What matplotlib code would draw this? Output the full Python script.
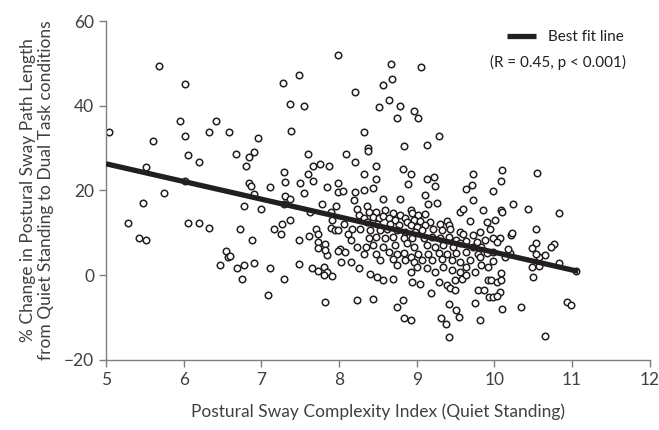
import numpy as np
import matplotlib
matplotlib.use("Agg")
import matplotlib.pyplot as plt

plt.rcParams['font.family'] = ['Lato', 'DejaVu Sans']

# complexity index (x) and % change in path length (y)
pts = [
    # upper left
    (5.68, 49.5), (6.02, 45.2), (5.95, 36.3), (6.42, 36.3), (6.33, 33.9), (6.58, 33.8),
    (5.04, 33.8), (5.61, 31.6), (6.01, 32.9),
    # upper middle
    (7.99, 52.0), (7.49, 47.2), (7.28, 45.4), (8.20, 43.2), (7.37, 40.5), (7.55, 40.0),
    (7.38, 34.0), (6.96, 32.5),
    (8.67, 49.8), (9.06, 49.1), (8.68, 46.4), (8.56, 45.0), (8.64, 41.3), (8.52, 39.7),
    (8.79, 39.9), (8.97, 38.8), (8.75, 37.2), (9.02, 37.2), (8.32, 33.8), (9.28, 32.8),
    (9.13, 30.7), (8.84, 30.4), (8.37, 30.1),
    # left, around the line
    (6.06, 28.3), (6.19, 26.7), (5.51, 25.5), (6.02, 22.2), (5.75, 19.4), (5.48, 17.1),
    (5.28, 12.3), (6.05, 12.4), (6.19, 12.4), (6.33, 11.2), (5.42, 8.7), (5.52, 8.3),
    (6.54, 5.6), (6.57, 4.3), (6.47, 2.4),
    # 6.6 - 8.3
    (6.67, 28.7), (6.90, 29.1), (6.84, 27.9), (6.80, 25.7), (7.60, 28.5), (8.09, 28.5),
    (8.21, 26.7), (7.67, 25.7), (7.75, 26.2), (7.87, 25.9), (7.29, 24.4), (7.60, 23.8),
    (7.30, 22.0), (7.50, 21.8), (7.67, 22.2), (6.84, 21.8), (6.87, 21.0), (7.11, 20.8),
    (7.99, 21.8), (7.84, 20.8), (7.55, 19.5), (7.98, 19.6), (8.05, 19.8), (8.21, 19.6),
    (6.90, 19.1), (7.30, 18.7), (7.37, 18.0), (7.29, 16.7), (7.78, 16.7), (7.96, 16.3),
    (8.19, 17.7), (6.78, 16.3), (6.99, 15.6), (7.62, 14.9), (7.89, 14.9), (8.23, 15.7),
    (8.25, 14.2), (7.37, 13.0), (7.91, 13.0), (8.06, 12.0), (7.26, 12.0), (7.16, 10.8),
    (7.25, 9.8), (6.72, 10.8), (7.70, 10.8), (7.89, 11.2), (7.95, 10.6), (7.99, 10.6),
    (8.17, 10.8), (7.73, 9.7), (7.61, 9.2), (6.88, 8.3), (7.48, 8.4), (7.73, 7.9),
    (7.82, 7.3), (8.12, 9.8), (8.15, 8.4), (8.01, 6.3), (8.23, 6.7), (7.73, 6.5),
    # 8.3 - 10, above the band
    (8.37, 29.3), (8.48, 25.9), (8.82, 25.0), (8.92, 23.8), (8.89, 21.5), (8.32, 23.8),
    (8.48, 22.8), (8.32, 20.2), (8.44, 20.7), (9.13, 22.6), (9.22, 23.3), (9.24, 21.1),
    (9.72, 24.0), (9.71, 21.4), (9.64, 20.4), (9.11, 18.9), (8.56, 17.9), (8.79, 17.9),
    (9.15, 16.7), (9.26, 17.1), (9.72, 17.7), (9.85, 15.3), (9.56, 14.9), (9.60, 15.7),
    (9.68, 12.8), (9.90, 12.6),
    # dense band
    (8.36, 16.3), (8.39, 14.9), (8.47, 14.9), (8.59, 15.3), (8.70, 14.7), (8.79, 14.2),
    (8.92, 15.3), (8.94, 14.6), (9.02, 14.3), (9.11, 14.4), (9.17, 12.6), (9.30, 12.2),
    (9.39, 12.8), (9.42, 11.8), (8.32, 13.4), (8.44, 13.8), (8.51, 13.4), (8.57, 13.9),
    (8.64, 13.4), (8.72, 13.0), (8.85, 13.4), (8.87, 12.6), (8.96, 13.1), (9.04, 12.8),
    (8.36, 12.6), (8.49, 12.0), (8.66, 12.2), (8.77, 11.8), (8.92, 11.8), (9.00, 11.4),
    (9.11, 11.8), (9.21, 11.0), (9.32, 10.6), (9.43, 11.0), (9.56, 10.2), (9.60, 9.8),
    (9.73, 9.4), (9.81, 10.2), (8.27, 11.0), (8.40, 10.6), (8.53, 10.6), (8.62, 11.0),
    (8.74, 10.6), (8.85, 10.2), (8.98, 10.2), (9.07, 10.6), (8.38, 8.7), (8.47, 9.0),
    (8.59, 8.9), (8.70, 9.0), (8.83, 8.9), (8.94, 8.9), (9.09, 8.7), (9.19, 9.0),
    (9.30, 8.9), (9.41, 9.0), (9.51, 8.4), (9.64, 8.1), (9.77, 7.9), (9.88, 8.4),
    (8.34, 6.7), (8.44, 7.1), (8.57, 6.7), (8.72, 7.1), (8.87, 7.5), (8.96, 6.7),
    (9.13, 7.1), (9.24, 6.7), (9.34, 7.1), (9.47, 6.7), (9.56, 7.5), (9.73, 6.7),
    (9.83, 6.7),
    (8.32, 5.1), (8.47, 5.1), (8.64, 5.5), (8.74, 5.1), (8.83, 5.3), (8.92, 4.3),
    (9.02, 5.0), (9.15, 5.0), (9.28, 5.3), (9.39, 5.1), (9.51, 5.3), (9.64, 5.5),
    (9.79, 5.1), (9.90, 5.3),
    (8.53, 3.5), (8.70, 3.9), (8.85, 3.5), (8.96, 3.1), (9.07, 3.5), (9.19, 3.7),
    (9.32, 3.9), (9.45, 3.5), (9.56, 3.1), (9.69, 3.5), (9.81, 4.3),
    (8.40, 0.4), (8.49, -0.4), (8.57, -1.2), (8.70, -0.8), (8.74, 2.4), (8.92, 0.8),
    (9.00, 2.0), (9.13, 1.6), (9.24, 0.8), (9.34, 2.0), (9.45, 1.2), (9.56, 0.8),
    (9.64, 2.0), (9.75, 0.8), (9.83, 2.4), (9.92, 2.0),
    (8.94, -1.6), (9.04, -2.0), (9.28, -1.6), (9.39, -2.4), (9.49, -1.2), (9.58, -0.8),
    (9.64, 0.0), (9.92, -1.2),
    # below the band
    (8.44, -5.7), (8.82, -5.9), (8.74, -7.6), (9.18, -4.3), (9.43, -3.1), (9.49, -3.5),
    (9.41, -6.7), (9.51, -8.3), (9.55, -9.8), (9.79, -3.4), (9.87, -3.4), (9.93, -5.1),
    (9.75, -6.5), (9.82, -10.6), (8.83, -10.2), (8.92, -10.6), (9.31, -10.0), (9.38, -11.6),
    (9.41, -14.5),
    # 6.6 - 8.3 low
    (6.60, 4.5), (6.68, 1.8), (6.78, 2.4), (6.90, 2.8), (6.75, -1.0), (7.11, 1.6),
    (7.29, -0.8), (7.08, -4.7), (7.49, 2.6), (7.65, 1.6), (7.73, 1.0), (7.81, 2.0),
    (7.85, 0.8), (7.81, 0.0), (7.91, -0.1), (7.82, -6.3), (8.03, 3.1), (8.15, 3.1),
    (8.25, 1.8), (8.23, -5.9), (7.84, 4.7), (7.82, 5.9), (7.99, 5.7), (8.08, 5.5),
    # right side
    (11.05, 0.9), (9.98, 5.5), (9.98, 3.4), (10.13, 4.3), (10.20, 5.3), (10.48, 2.0),
    (10.58, 2.1), (10.58, 4.2), (10.65, 4.7), (10.54, 5.0), (10.83, 2.8), (10.50, -0.5),
    (10.09, 0.5), (9.96, -1.2), (10.03, -1.6), (10.09, -1.2), (10.07, -3.9), (9.98, -5.1),
    (10.03, -5.0), (10.10, -8.0), (10.34, -7.6), (10.93, -6.3), (10.98, -7.1), (10.65, -14.4),
    (10.10, 24.8), (10.55, 24.2), (10.09, 22.2), (9.98, 19.8), (10.24, 16.9), (10.43, 15.7),
    (10.83, 14.7), (10.08, 15.5), (10.10, 14.9), (10.01, 13.0), (9.94, 11.0), (10.53, 11.0),
    (10.21, 9.4), (10.23, 10.0), (9.98, 8.7), (10.07, 8.7), (10.03, 7.9), (10.53, 7.5),
    (10.77, 7.3), (10.73, 6.7), (10.48, 6.5), (10.18, 6.1),
]
complexity = [p[0] for p in pts]
pct_change = [p[1] for p in pts]

# best fit line end points
fit_x = [5.0, 11.08]
fit_y = [26.3, 0.9]

x_ticks = [5, 6, 7, 8, 9, 10, 11, 12]
y_ticks = [-20, 0, 20, 40, 60]

ink = '#231f20'
txt = '#404040'

fig = plt.figure(figsize=(6.59, 4.30), dpi=100)
ax = fig.add_axes([0.161, 0.163, 0.825, 0.788])

ax.scatter(complexity, pct_change, s=22, facecolors='white', edgecolors=ink,
           linewidths=1.1, zorder=2)
ax.plot(fit_x, fit_y, color=ink, lw=3.8, solid_capstyle='butt', zorder=3,
        label='Best fit line')

ax.set_xlim(5, 12)
ax.set_ylim(-20, 60)
ax.set_xticks(x_ticks)
ax.set_yticks(y_ticks)
for s in ['top', 'right']:
    ax.spines[s].set_visible(False)
for s in ['left', 'bottom']:
    ax.spines[s].set_color('#7f7f7f')
    ax.spines[s].set_linewidth(1.0)
ax.tick_params(direction='out', length=5, width=1.0, color='#7f7f7f',
               labelsize=12.5, labelcolor=txt)

ax.set_xlabel('Postural Sway Complexity Index (Quiet Standing)', fontsize=12.5,
              color=txt, labelpad=11)
ax.set_ylabel('% Change in Postural Sway Path Length\nfrom Quiet Standing to Dual Task conditions',
              fontsize=12.5, color=txt, labelpad=7)

leg = ax.legend(loc='upper left', bbox_to_anchor=(0.72, 1.0), frameon=False,
                fontsize=11, handlelength=1.9, handletextpad=0.8, borderaxespad=0.2)
for t in leg.get_texts():
    t.set_color(ink)
ax.text(0.957, 0.878, '(R = 0.45, p < 0.001)', transform=ax.transAxes,
        ha='right', va='center', fontsize=11, color=ink)

fig.savefig('out.png', dpi=100)
